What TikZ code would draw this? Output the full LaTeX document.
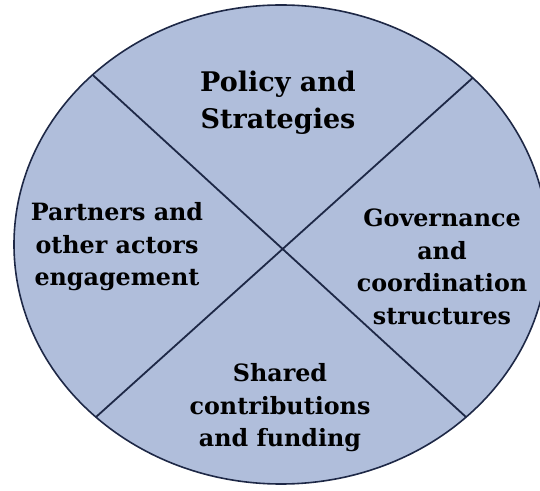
\documentclass[tikz,border=0pt]{standalone}
\usepackage{fontspec}
\setmainfont{DejaVu Serif}
\usetikzlibrary{shapes.geometric}
\definecolor{discfill}{RGB}{176,190,219}
\definecolor{discline}{RGB}{30,40,70}

\begin{document}
\begin{tikzpicture}[x=1pt,y=1pt,
        disc/.style={ellipse,draw=discline,line width=1.6pt,fill=discfill,
            inner sep=0pt,outer sep=0pt,minimum width=534pt,minimum height=479pt},
        divider/.style={draw=discline,line width=1.8pt},
        every node/.style={font=\bfseries\fontsize{23.8}{32.5}\selectfont,align=center,text=black}]

    \useasboundingbox (0,0) rectangle (540,490);
    \clip (0,0) rectangle (540,490);
    \fill[white] (0,0) rectangle (540,490);

    \node[disc] (disc) at (281,245.5) {};
    \draw[divider] (disc.138.5) -- (disc.-43);
    \draw[divider] (disc.41.5) -- (disc.-137);

    \node (policy) at (278,387) [font=\bfseries\fontsize{27}{37}\selectfont] {Policy and\\Strategies};
    \node (partners) at (117,243) {Partners and\\other actors\\engagement};
    \node (governance) at (442,223) {Governance\\and\\coordination\\structures};
    \node (shared) at (280,82) {Shared\\contributions\\and funding};
\end{tikzpicture}
\end{document}
